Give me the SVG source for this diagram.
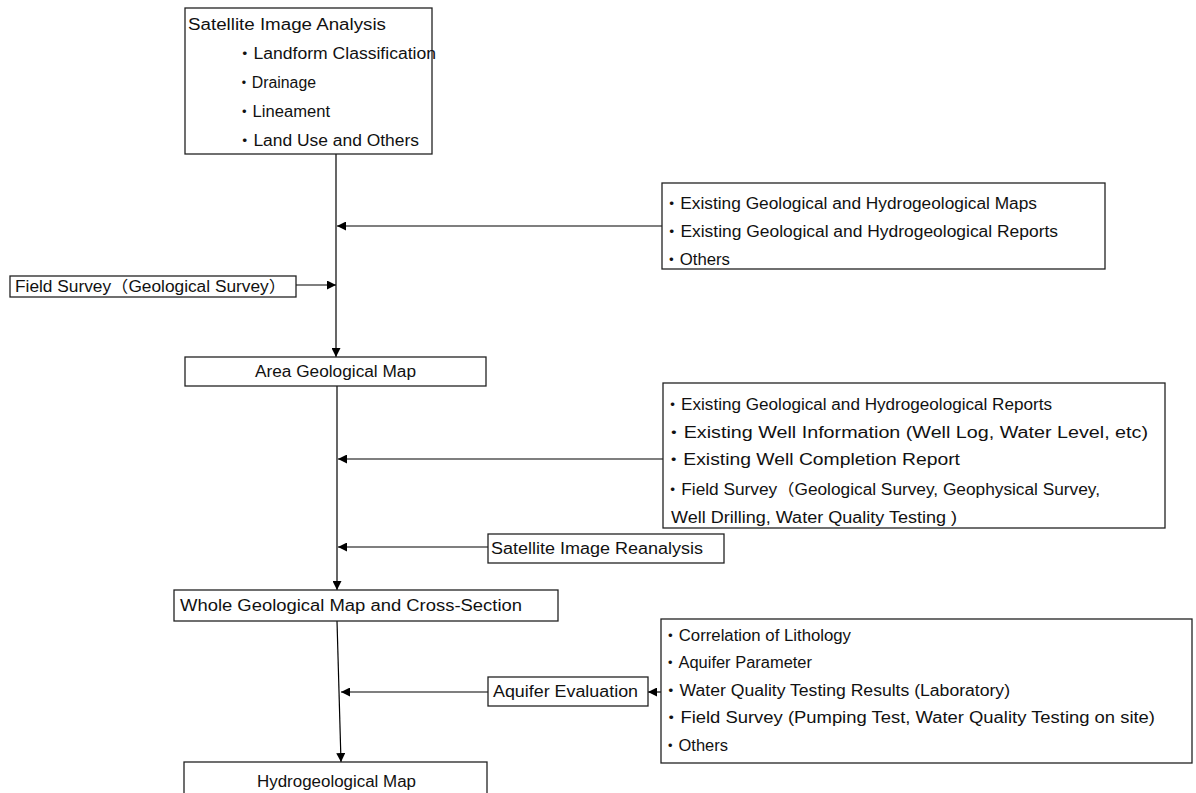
<svg xmlns="http://www.w3.org/2000/svg" width="1196" height="793" viewBox="0 0 1196 793">
<defs>
<style>
.box{fill:#fff;stroke:#222;stroke-width:1.3}
.t{font-family:"Liberation Sans","Noto Sans CJK JP",sans-serif;font-size:16px;fill:#111}
.c{stroke:#000;stroke-width:1.2;fill:none;marker-end:url(#ah)}
</style>
<marker id="ah" viewBox="0 0 10 10" refX="10" refY="5" markerWidth="9" markerHeight="9" markerUnits="userSpaceOnUse" orient="auto">
<path d="M0,0 L10,5 L0,10 Z" fill="#000"/>
</marker>
</defs>
<rect width="1196" height="793" fill="#fff"/>
<g id="connectors">
<line class="c" x1="336" y1="154" x2="336" y2="357"/>
<line class="c" x1="662" y1="226" x2="337" y2="226"/>
<line class="c" x1="296" y1="285" x2="336" y2="285"/>
<line class="c" x1="337" y1="386" x2="337" y2="590"/>
<line class="c" x1="663" y1="459" x2="338" y2="459"/>
<line class="c" x1="488" y1="547" x2="338" y2="547"/>
<line class="c" x1="337" y1="621" x2="341" y2="762"/>
<line class="c" x1="488" y1="692" x2="341" y2="692"/>
<line class="c" x1="661" y1="692" x2="648" y2="692"/>
</g>
<g id="satellite">
<rect class="box" x="185" y="8" width="247" height="146"/>
<text class="t" x="188" y="30" textLength="198" lengthAdjust="spacingAndGlyphs">Satellite  Image Analysis</text>
<text class="t" x="236" y="59" textLength="200" lengthAdjust="spacingAndGlyphs">・Landform Classification</text>
<text class="t" x="236" y="88" textLength="80" lengthAdjust="spacingAndGlyphs">・Drainage</text>
<text class="t" x="236" y="117" textLength="94" lengthAdjust="spacingAndGlyphs">・Lineament</text>
<text class="t" x="236" y="146" textLength="183" lengthAdjust="spacingAndGlyphs">・Land Use and Others</text>
</g>
<g id="existing1">
<rect class="box" x="662" y="183" width="443" height="86"/>
<text class="t" x="663" y="209" textLength="374" lengthAdjust="spacingAndGlyphs">・Existing Geological and Hydrogeological Maps</text>
<text class="t" x="663" y="237" textLength="395" lengthAdjust="spacingAndGlyphs">・Existing Geological and Hydrogeological Reports</text>
<text class="t" x="663" y="265" textLength="67" lengthAdjust="spacingAndGlyphs">・Others</text>
</g>
<g id="fieldsurvey">
<rect class="box" x="10" y="276" width="286" height="21"/>
<text class="t" x="15" y="292" textLength="271" lengthAdjust="spacingAndGlyphs">Field Survey（Geological Survey）</text>
</g>
<g id="areamap">
<rect class="box" x="185" y="357" width="301" height="29"/>
<text class="t" x="255" y="377" textLength="161" lengthAdjust="spacingAndGlyphs">Area Geological Map</text>
</g>
<g id="existing2">
<rect class="box" x="663" y="383" width="502" height="145"/>
<text class="t" x="664" y="410" textLength="388" lengthAdjust="spacingAndGlyphs">・Existing Geological and Hydrogeological Reports</text>
<text class="t" x="664" y="438" textLength="484" lengthAdjust="spacingAndGlyphs">・Existing Well Information (Well Log, Water Level, etc)</text>
<text class="t" x="664" y="465" textLength="296" lengthAdjust="spacingAndGlyphs">・Existing Well Completion Report</text>
<text class="t" x="664" y="495" textLength="436" lengthAdjust="spacingAndGlyphs">・Field Survey（Geological Survey, Geophysical Survey,</text>
<text class="t" x="671" y="523" textLength="286" lengthAdjust="spacingAndGlyphs">Well Drilling, Water Quality Testing )</text>
</g>
<g id="reanalysis">
<rect class="box" x="488" y="534" width="236" height="29"/>
<text class="t" x="491" y="554" textLength="212" lengthAdjust="spacingAndGlyphs">Satellite Image Reanalysis</text>
</g>
<g id="wholemap">
<rect class="box" x="174" y="590" width="384" height="31"/>
<text class="t" x="180" y="611" textLength="342" lengthAdjust="spacingAndGlyphs">Whole Geological Map and Cross-Section</text>
</g>
<g id="aquifer">
<rect class="box" x="488" y="677" width="160" height="29"/>
<text class="t" x="493" y="697" textLength="145" lengthAdjust="spacingAndGlyphs">Aquifer Evaluation</text>
</g>
<g id="aquiferinputs">
<rect class="box" x="661" y="619" width="531" height="144"/>
<text class="t" x="662" y="641" textLength="189" lengthAdjust="spacingAndGlyphs">・Correlation of Lithology</text>
<text class="t" x="662" y="668" textLength="150" lengthAdjust="spacingAndGlyphs">・Aquifer Parameter</text>
<text class="t" x="662" y="696" textLength="348" lengthAdjust="spacingAndGlyphs">・Water Quality Testing Results (Laboratory)</text>
<text class="t" x="662" y="723" textLength="493" lengthAdjust="spacingAndGlyphs">・Field Survey (Pumping Test, Water Quality Testing on site)</text>
<text class="t" x="662" y="751" textLength="66" lengthAdjust="spacingAndGlyphs">・Others</text>
</g>
<g id="hydromap">
<rect class="box" x="184" y="762" width="303" height="40"/>
<text class="t" x="257" y="787" textLength="159" lengthAdjust="spacingAndGlyphs">Hydrogeological Map</text>
</g>
</svg>
